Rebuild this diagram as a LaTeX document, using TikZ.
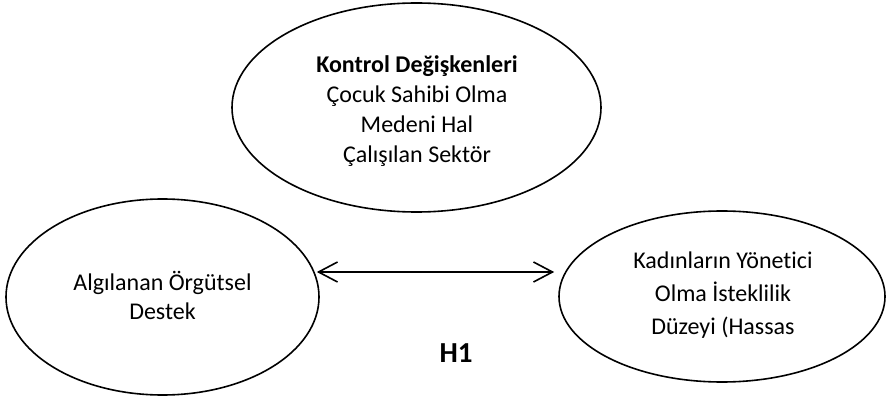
\documentclass[tikz,border=0pt]{standalone}
\usepackage{fontspec}
\setmainfont{Carlito}[Ligatures=NoCommon]
\usetikzlibrary{shapes.geometric,arrows.meta}
\tikzset{
  oval/.style={ellipse, draw, line width=1.6pt, inner sep=0pt},
  ovaltext/.style={align=center, inner sep=0pt},
  rel/.style={line width=1.6pt, {Straight Barb[length=19pt,width=20pt,line width=1.6pt]}-{Straight Barb[length=19pt,width=20pt,line width=1.6pt]}}
}
\begin{document}
\begin{tikzpicture}[x=1pt,y=-1pt]
\useasboundingbox (0,0) rectangle (889,398);
\node[oval, minimum width=369pt, minimum height=209pt] (K) at (416.5,107.5) {};
\node[ovaltext, font=\fontsize{24}{30}\selectfont] (Kt) at (417,111.5)
  {\textbf{Kontrol Değişkenleri}\\Çocuk Sahibi Olma\\Medeni Hal\\Çalışılan Sektör};
\node[oval, minimum width=313pt, minimum height=196pt] (L) at (162.5,297) {};
\node[ovaltext, font=\fontsize{24}{28.5}\selectfont] (Lt) at (162.5,295.5)
  {Algılanan Örgütsel\\Destek};
\node[oval, minimum width=326pt, minimum height=171pt] (R) at (722,296.5) {};
\node[ovaltext, font=\fontsize{24}{33}\selectfont] (Rt) at (723,295.5)
  {Kadınların Yönetici\\Olma İsteklilik\\Düzeyi (Hassas};
\coordinate (ay) at (0,272);
\draw[rel, shorten <=-3pt, shorten >=4pt] (L.east |- ay) -- (R.west |- ay);
\node[font=\fontsize{29}{34}\selectfont\bfseries, inner sep=0pt] (H) at (456,353.5) {H1};
\end{tikzpicture}
\end{document}
